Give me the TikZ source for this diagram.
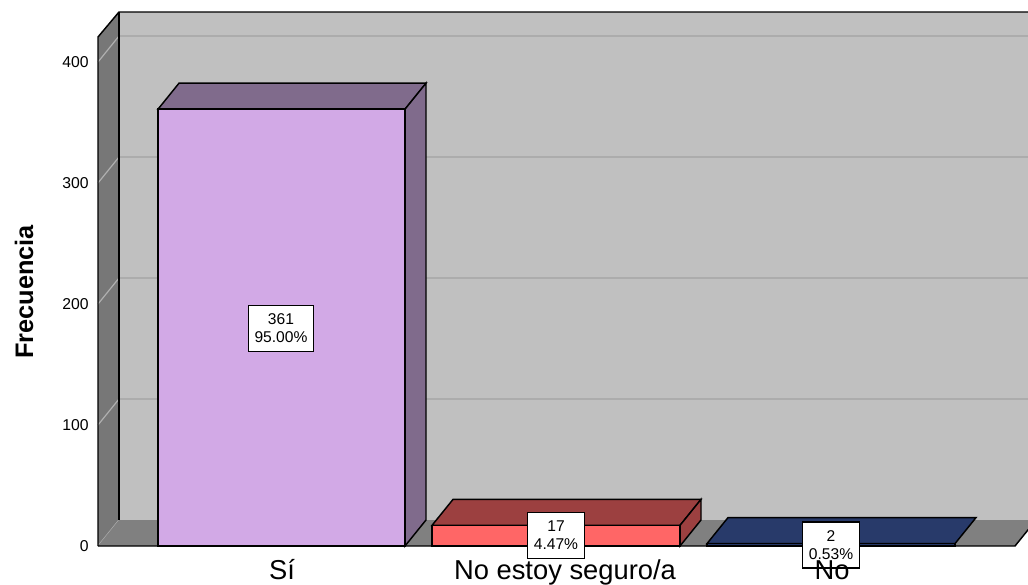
\documentclass[tikz,border=0pt]{standalone}
\usepackage{fontspec}
\setmainfont{Liberation Sans}
\definecolor{backwall}{RGB}{192,192,192}
\definecolor{sidewall}{RGB}{119,119,119}
\definecolor{floorgray}{RGB}{128,128,128}
\definecolor{gridgray}{RGB}{172,172,172}
\definecolor{sidegrid}{RGB}{176,176,176}
\definecolor{siFront}{RGB}{210,169,230}
\definecolor{siDark}{RGB}{128,107,140}
\definecolor{nsFront}{RGB}{255,102,102}
\definecolor{nsDark}{RGB}{156,64,64}
\definecolor{noFront}{RGB}{38,56,104}
\definecolor{noDark}{RGB}{40,58,106}

\begin{document}
\begin{tikzpicture}[x=0.75pt,y=0.75pt,yscale=-1,xscale=1,
	outline/.style={draw=black,line width=1.1pt,line join=miter},
	gridln/.style={draw=gridgray,line width=0.9pt},
	valbox/.style={draw=black,fill=white,line width=0.9pt,inner xsep=4.5pt,inner ysep=6.3pt,align=center,font=\fontsize{11.7}{13.5}\selectfont},
	ticklbl/.style={anchor=east,inner sep=0pt,font=\fontsize{11.8}{13}\selectfont},
	catlbl/.style={anchor=base,inner sep=0pt,font=\fontsize{20.5}{24}\selectfont}]
		\clip (0,0) rectangle (1028,585);

		%Shape: Back wall
		\fill [backwall] (119,12) -- (1040,12) -- (1040,520) -- (119,520) -- cycle ;
		%Straight Lines: grid on back wall
		\draw [gridln] (119,399) -- (1040,399) ;
		\draw [gridln] (119,278) -- (1040,278) ;
		\draw [gridln] (119,157) -- (1040,157) ;
		\draw [gridln] (119,36) -- (1040,36) ;

		%Shape: Left wall
		\fill [sidewall] (98,37) -- (119,12) -- (119,520) -- (98,546) -- cycle ;
		%Straight Lines: grid on left wall
		\draw [sidegrid,line width=0.9pt] (98,546) -- (119,520) ;
		\draw [sidegrid,line width=0.9pt] (98,425) -- (119,399) ;
		\draw [sidegrid,line width=0.9pt] (98,304) -- (119,278) ;
		\draw [sidegrid,line width=0.9pt] (98,183) -- (119,157) ;
		\draw [sidegrid,line width=0.9pt] (98,62) -- (119,36) ;

		%Shape: Floor
		\fill [floorgray] (98,546) -- (119,520) -- (1036,520) -- (1015,546) -- cycle ;
		\draw [outline] (98,546) -- (1015,546) -- (1036,520) ;
		%Straight Lines: wall edges
		\draw [outline] (98,546) -- (98,37) -- (119,12) -- (1040,12) ;
		\draw [outline] (119,12) -- (119,520) ;

		%Shape: Bar Si
		\draw [outline,fill=siDark] (158,109.2) -- (179,83.2) -- (426,83.2) -- (405,109.2) -- cycle ;
		\draw [outline,fill=siDark] (405,109.2) -- (426,83.2) -- (426,520) -- (405,546) -- cycle ;
		\draw [outline,fill=siFront] (158,109.2) -- (405,109.2) -- (405,546) -- (158,546) -- cycle ;

		%Shape: Bar No estoy seguro/a
		\draw [outline,fill=nsDark] (432,525.4) -- (453,499.4) -- (701,499.4) -- (680,525.4) -- cycle ;
		\draw [outline,fill=nsDark] (680,525.4) -- (701,499.4) -- (701,520) -- (680,546) -- cycle ;
		\draw [outline,fill=nsFront] (432,525.4) -- (680,525.4) -- (680,546) -- (432,546) -- cycle ;

		%Shape: Bar No
		\draw [outline,fill=noDark] (707,543.6) -- (728,517.6) -- (976,517.6) -- (955,543.6) -- cycle ;
		\draw [outline,fill=noFront] (707,543.6) -- (955,543.6) -- (955,546) -- (707,546) -- cycle ;

		% Text Node: value labels
		\node [valbox] (valSi) at (281,328.5) {361\\95.00\%};
		\node [valbox] (valNoSe) at (556,535.5) {17\\4.47\%};
		\node [valbox] (valNo) at (831,545) {2\\0.53\%};

		% Text Node: axis ticks
		\node [ticklbl] (tick0) at (89,546) {0};
		\node [ticklbl] (tick100) at (89,425) {100};
		\node [ticklbl] (tick200) at (89,304) {200};
		\node [ticklbl] (tick300) at (89,183) {300};
		\node [ticklbl] (tick400) at (89,62) {400};

		% Text Node: axis title
		\node [rotate=90,inner sep=0pt,font=\bfseries\fontsize{19}{22}\selectfont] (ytitle) at (24,292) {Frecuencia};

		% Text Node: categories
		\node [catlbl] (catSi) at (282,579) {Sí};
		\node [catlbl] (catNoSe) at (565,579) {No estoy seguro/a};
		\node [catlbl] (catNo) at (832,579) {No};

\end{tikzpicture}
\end{document}
